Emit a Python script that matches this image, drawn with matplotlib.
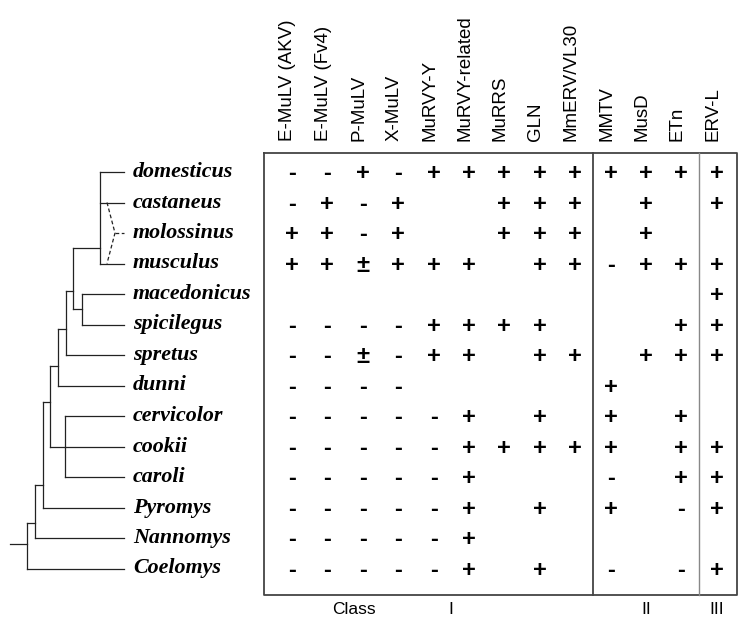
import matplotlib.pyplot as plt

# species (rows), retroelements (columns) and presence table
species = ['domesticus', 'castaneus', 'molossinus', 'musculus', 'macedonicus',
           'spicilegus', 'spretus', 'dunni', 'cervicolor', 'cookii', 'caroli',
           'Pyromys', 'Nannomys', 'Coelomys']
elements = ['E-MuLV (AKV)', 'E-MuLV (Fv4)', 'P-MuLV', 'X-MuLV', 'MuRVY-Y',
            'MuRVY-related', 'MuRRS', 'GLN', 'MmERV/VL30', 'MMTV', 'MusD',
            'ETn', 'ERV-L']
# '.' = not tested
presence = ['--+-+++++++++',
            '-+-+..+++.+.+',
            '++-+..+++.+..',
            '++±+++.++-+++',
            '............+',
            '----++++...++',
            '--±-++.++.+++',
            '----.....+...',
            '-----+.+.+.+.',
            '-----+++++.++',
            '-----+...-.++',
            '-----+.+.+.-+',
            '-----+.......',
            '-----+.+.-.-+']
class_names = ['I', 'II', 'III']
class_cols = [4.5, 10, 12]
class_splits = [8.5, 11.5]

# tree: internal nodes (x, top row, bottom row, attach row, parent x)
clades = [(100, 0, 3, 2.5, 73),
          (82, 4, 5, 4.5, 73),
          (73, 2.5, 4.5, 3.9, 66),
          (66, 3.9, 6, 5.15, 58),
          (58, 5.15, 7, 6.35, 50),
          (65, 8, 10, 9, 50),
          (50, 6.35, 9, 7.55, 43),
          (43, 7.55, 11, 10.25, 35),
          (35, 10.25, 12, 11.5, 27),
          (27, 11.5, 13, 12.2, 10)]
leaf_parent = [100, 100, None, 100, 82, 82, 66, 58, 65, 65, 65, 43, 35, 27]
leaf_end = 124

# layout (x in pixels, y in rows)
row0, dy = 172, 30.5
col0, dcol = 292, 35.4

fig = plt.figure(figsize=(7.48, 6.27), dpi=100)
ax = fig.add_axes([0, 0, 1, 1])
ax.set_xlim(0, 748)
ax.set_ylim((627 - row0) / dy, -row0 / dy)
ax.axis('off')

lc = '#222222'
for x, top, bot, att, px in clades:
    ax.plot([x, x], [top, bot], color=lc, lw=0.9)
    ax.plot([px, x], [att, att], color=lc, lw=0.9)
for i, px in enumerate(leaf_parent):
    if px is not None:
        ax.plot([px, leaf_end], [i, i], color=lc, lw=0.9)
# molossinus as hybrid of castaneus and musculus
ax.plot([107, 115, 107], [1, 2, 3], color=lc, lw=0.9, ls=(0, (3, 2)))
ax.plot([115, leaf_end], [2, 2], color=lc, lw=0.9, ls=(0, (3, 2)))

for i, name in enumerate(species):
    ax.text(133, i, name, ha='left', va='center', fontsize=15.8,
            family='Liberation Serif', weight='bold', style='italic')

for j, name in enumerate(elements):
    ax.text(col0 + j * dcol - 4, (141 - row0) / dy, name, rotation=90,
            ha='center', va='bottom', fontsize=13.5, family='Liberation Sans')

for i, row in enumerate(presence):
    for j, mark in enumerate(row):
        if mark != '.':
            ax.text(col0 + j * dcol, i + 0.05, mark, ha='center', va='center',
                    fontsize=17, family='Liberation Sans', weight='bold')

# frame and class separators
top, bot = (153 - row0) / dy, (595 - row0) / dy
left, right = 264, 737
ax.plot([left, right, right, left, left], [top, top, bot, bot, top],
        color='#444444', lw=1.3)
ax.plot([col0 + class_splits[0] * dcol] * 2, [top, bot], color='#444444', lw=1.3)
ax.plot([col0 + class_splits[1] * dcol] * 2, [top, bot], color='#888888', lw=1.0)

ylab = (610 - row0) / dy
ax.text(354, ylab, 'Class', ha='center', va='center', fontsize=12.5,
        family='Liberation Sans')
for name, c in zip(class_names, class_cols):
    ax.text(col0 + c * dcol, ylab, name, ha='center', va='center',
            fontsize=12.5, family='Liberation Sans')

fig.savefig('out.png', dpi=100)
